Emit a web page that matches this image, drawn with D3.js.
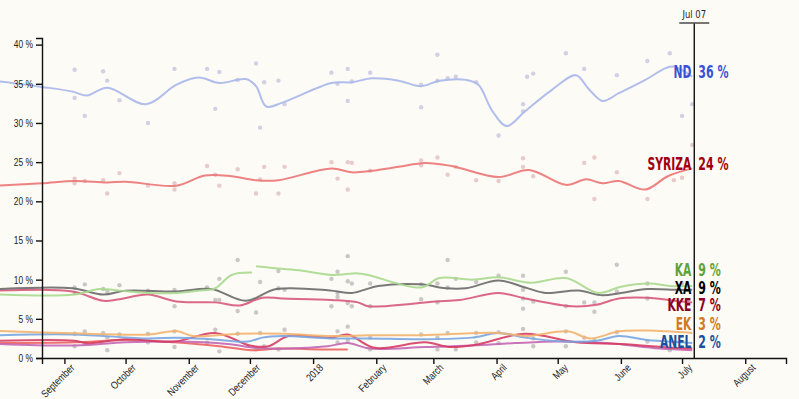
<!DOCTYPE html>
<html><head><meta charset="utf-8">
<script src="https://cdn.jsdelivr.net/npm/d3@7"></script>
<style>
html,body{margin:0;padding:0;background:#fdfbf6;}
svg{display:block;font-family:'DejaVu Sans Condensed','Liberation Sans Narrow',sans-serif;}
</style></head><body><div id="chart"></div>
<script>
// ---------- DATA ----------
const ndLine = [["2017-07-31",35.3],["2017-08-21",34.6],["2017-09-05",34.0],["2017-09-12",33.5],["2017-09-22",34.5],["2017-10-11",32.4],["2017-10-26",34.9],["2017-11-06",35.8],["2017-11-16",35.1],["2017-11-29",35.6],["2017-12-04",34.7],["2017-12-09",32.1],["2017-12-17",32.6],["2018-01-10",35.1],["2018-01-20",35.2],["2018-01-30",35.7],["2018-02-12",35.4],["2018-02-23",34.7],["2018-03-04",35.4],["2018-03-17",35.5],["2018-03-23",34.9],["2018-03-30",31.5],["2018-04-06",29.6],["2018-04-15",31.5],["2018-04-28",34.2],["2018-05-10",36.1],["2018-05-16",34.4],["2018-05-23",32.8],["2018-05-31",33.8],["2018-06-13",35.5],["2018-06-23",37.0],["2018-06-27",37.2],["2018-07-06",35.9]];
const syrizaLine = [["2017-07-31",22.0],["2017-08-21",22.3],["2017-09-06",22.6],["2017-09-22",22.4],["2017-10-01",22.5],["2017-10-26",22.0],["2017-11-09",23.3],["2017-11-22",23.2],["2017-12-04",22.7],["2017-12-15",22.7],["2018-01-10",24.2],["2018-01-20",23.7],["2018-01-30",23.9],["2018-02-12",24.4],["2018-02-25",24.9],["2018-03-10",24.5],["2018-04-02",23.1],["2018-04-17",24.0],["2018-05-05",22.1],["2018-05-15",22.8],["2018-05-23",22.3],["2018-05-31",22.6],["2018-06-13",21.5],["2018-06-24",23.2],["2018-07-06",24.2]];
const kaLine = [["2017-07-31",8.1],["2017-09-06",8.1],["2017-09-18",8.8],["2017-09-28",8.6],["2017-10-12",8.3],["2017-10-26",8.3],["2017-11-06",8.6],["2017-11-14",8.9],["2017-11-22",10.6],["2017-12-02",10.9],["2017-12-03",null],["2017-12-04",11.7],["2017-12-12",11.5],["2017-12-25",11.2],["2018-01-10",10.6],["2018-01-23",10.8],["2018-01-28",10.6],["2018-02-23",9.0],["2018-03-04",10.2],["2018-03-20",10.0],["2018-04-02",10.3],["2018-04-18",9.6],["2018-05-05",10.2],["2018-05-21",8.3],["2018-06-01",9.1],["2018-06-15",9.5],["2018-06-25",9.2],["2018-07-06",9.2]];
const xaLine = [["2017-07-31",8.8],["2017-09-05",8.9],["2017-09-20",8.1],["2017-10-01",8.6],["2017-10-26",8.5],["2017-11-12",8.8],["2017-11-29",7.3],["2017-12-14",8.8],["2018-01-10",8.6],["2018-01-20",8.3],["2018-02-02",9.2],["2018-02-23",9.4],["2018-03-07",8.9],["2018-03-17",8.9],["2018-04-02",9.9],["2018-04-15",9.0],["2018-04-25",8.3],["2018-05-11",8.6],["2018-05-23",8.0],["2018-06-01",8.3],["2018-06-14",8.8],["2018-06-29",8.7],["2018-07-06",8.7]];
const kkeLine = [["2017-07-31",8.6],["2017-09-05",8.5],["2017-09-20",7.3],["2017-09-28",7.5],["2017-10-12",8.1],["2017-10-26",7.2],["2017-11-14",7.1],["2017-11-26",6.7],["2017-12-07",7.7],["2017-12-17",7.6],["2018-01-10",7.4],["2018-01-23",7.1],["2018-01-28",6.6],["2018-03-02",7.2],["2018-03-14",7.4],["2018-04-02",8.3],["2018-04-15",7.6],["2018-05-08",6.6],["2018-05-20",6.8],["2018-05-31",7.6],["2018-06-14",7.7],["2018-07-01",7.2],["2018-07-06",7.1]];
const ekLine = [["2017-07-31",3.45],["2017-09-05",3.15],["2017-10-12",3.0],["2017-10-26",3.45],["2017-11-03",2.8],["2017-11-26",3.1],["2017-12-18",3.1],["2018-01-10",2.8],["2018-01-28",2.9],["2018-02-23",2.9],["2018-04-02",3.2],["2018-04-15",2.8],["2018-05-06",3.4],["2018-05-17",2.5],["2018-05-31",3.4],["2018-06-14",3.5],["2018-07-06",3.2]];
const anelLine = [["2017-07-31",2.9],["2017-09-05",3.0],["2017-10-12",2.5],["2017-10-26",2.6],["2017-11-12",2.4],["2017-11-30",2.1],["2017-12-07",2.6],["2017-12-17",2.8],["2018-01-10",2.5],["2018-01-28",2.5],["2018-02-23",2.4],["2018-03-20",2.6],["2018-04-02",3.2],["2018-04-15",2.6],["2018-05-05",2.1],["2018-05-20",2.2],["2018-05-31",2.8],["2018-06-14",2.3],["2018-07-01",2.0],["2018-07-06",1.9]];
const potamiLine = [["2017-07-31",1.8],["2017-09-06",1.6],["2017-10-01",2.0],["2017-10-25",2.1],["2017-11-20",1.8],["2017-12-04",1.3],["2017-12-20",1.2],["2018-01-08",1.5],["2018-01-18",1.9],["2018-01-29",1.2],["2018-02-25",1.4],["2018-03-20",1.6],["2018-04-10",1.9],["2018-05-01",2.1],["2018-05-25",1.9],["2018-06-20",1.2],["2018-07-06",1.0]];
const crimsonLine = [["2017-07-31",2.2],["2017-09-06",2.2],["2017-09-12",1.9],["2017-10-01",2.4],["2017-10-25",2.1],["2017-11-14",3.2],["2017-12-01",1.6],["2017-12-10",1.5],["2017-12-20",2.8],["2018-01-10",2.6],["2018-01-18",3.0],["2018-01-31",1.3],["2018-02-25",2.0],["2018-03-09",1.4],["2018-03-22",1.7],["2018-04-15",3.1],["2018-05-10",2.0],["2018-06-01",1.8],["2018-06-27",1.3],["2018-07-06",1.2]];
const redLine = [["2017-07-31",1.9],["2017-09-06",2.0],["2017-10-01",2.3],["2017-10-25",2.0],["2017-11-16",1.5],["2017-12-02",1.0],["2017-12-15",1.2],["2018-01-05",1.1],["2018-01-18",1.1]];

const ndPolls = [["2017-09-06",36.8],["2017-09-06",33.2],["2017-09-11",30.9],["2017-09-20",36.6],["2017-09-22",35.4],["2017-09-28",32.9],["2017-10-12",30.0],["2017-10-25",36.9],["2017-11-10",36.9],["2017-11-14",31.8],["2017-11-16",36.5],["2017-11-25",35.5],["2017-12-04",37.6],["2017-12-06",29.4],["2017-12-08",35.2],["2017-12-15",35.4],["2017-12-18",32.4],["2018-01-10",36.4],["2018-01-13",35.0],["2018-01-18",36.9],["2018-01-18",32.8],["2018-01-20",35.3],["2018-01-29",36.4],["2018-02-23",32.0],["2018-02-23",34.9],["2018-03-03",38.7],["2018-03-03",35.4],["2018-03-08",35.7],["2018-03-12",35.9],["2018-03-22",35.2],["2018-04-02",28.4],["2018-04-14",32.4],["2018-04-14",31.5],["2018-04-16",35.9],["2018-04-19",36.3],["2018-05-05",38.9],["2018-05-14",36.9],["2018-05-30",36.1],["2018-06-14",37.9],["2018-06-25",38.9],["2018-07-01",30.9],["2018-07-06",32.4]];
const syrizaPolls = [["2017-09-06",22.9],["2017-09-06",22.3],["2017-09-11",22.6],["2017-09-20",22.7],["2017-09-22",21.0],["2017-09-28",23.6],["2017-10-12",22.0],["2017-10-25",22.3],["2017-10-25",21.5],["2017-11-10",24.5],["2017-11-14",23.4],["2017-11-16",22.0],["2017-11-25",24.1],["2017-12-04",21.0],["2017-12-06",22.8],["2017-12-08",24.4],["2017-12-15",21.0],["2017-12-18",24.4],["2018-01-10",25.0],["2018-01-13",22.9],["2018-01-18",25.0],["2018-01-18",21.5],["2018-01-20",24.9],["2018-01-29",23.9],["2018-02-23",25.2],["2018-02-23",24.6],["2018-03-03",25.6],["2018-03-08",23.4],["2018-03-12",24.4],["2018-03-22",22.7],["2018-04-02",22.6],["2018-04-14",25.5],["2018-04-14",24.4],["2018-04-19",23.2],["2018-05-14",24.9],["2018-05-19",25.6],["2018-05-19",20.3],["2018-05-30",23.7],["2018-06-14",20.3],["2018-06-27",22.7],["2018-07-01",23.0],["2018-07-06",27.2]];
const smallPolls = [["2017-09-06",9.0],["2017-09-11",9.4],["2017-09-06",8.3],["2017-09-20",8.8],["2017-09-22",8.5],["2017-09-28",9.3],["2017-10-12",8.6],["2017-10-25",8.7],["2017-10-25",6.6],["2017-11-10",9.0],["2017-11-14",7.4],["2017-11-16",10.1],["2017-11-16",7.4],["2017-11-25",12.5],["2017-11-25",6.0],["2017-12-06",9.7],["2017-12-04",5.8],["2017-12-15",11.1],["2017-12-15",8.9],["2017-12-18",8.7],["2018-01-10",10.1],["2018-01-13",11.0],["2018-01-13",8.3],["2018-01-13",7.8],["2018-01-18",13.0],["2018-01-18",9.8],["2018-01-18",7.0],["2018-01-20",6.6],["2018-01-10",6.6],["2018-01-20",9.5],["2018-01-29",9.5],["2018-01-29",6.6],["2018-02-23",7.5],["2018-02-23",9.4],["2018-03-03",9.5],["2018-03-03",7.1],["2018-03-08",12.5],["2018-03-08",9.0],["2018-03-12",10.1],["2018-03-22",9.7],["2018-04-02",10.5],["2018-04-14",10.5],["2018-04-14",8.7],["2018-04-14",7.6],["2018-04-14",6.3],["2018-04-19",7.2],["2018-05-05",11.0],["2018-05-05",6.6],["2018-05-14",7.1],["2018-05-19",7.1],["2018-05-19",5.9],["2018-05-30",11.9],["2018-05-30",8.5],["2018-06-14",9.5],["2018-06-14",7.6],["2018-07-01",9.5],
["2017-09-06",3.1],["2017-09-11",3.4],["2017-09-06",1.5],["2017-09-11",1.9],["2017-09-20",3.2],["2017-09-22",2.6],["2017-09-22",1.0],["2017-09-28",3.0],["2017-10-12",3.1],["2017-10-12",2.0],["2017-10-25",3.4],["2017-10-25",1.4],["2017-11-10",2.0],["2017-11-14",3.6],["2017-11-16",0.85],["2017-11-25",3.1],["2017-12-04",1.1],["2017-12-06",3.2],["2017-12-08",1.5],["2017-12-15",1.1],["2017-12-18",3.6],["2018-01-13",3.4],["2018-01-13",2.0],["2018-01-18",4.0],["2018-01-18",2.2],["2018-01-29",2.6],["2018-01-29",1.1],["2018-02-23",3.0],["2018-03-03",2.6],["2018-03-03",1.1],["2018-03-08",3.2],["2018-03-12",1.1],["2018-03-22",3.2],["2018-03-22",2.0],["2018-04-02",3.3],["2018-04-02",1.9],["2018-04-14",3.7],["2018-04-19",2.5],["2018-04-19",1.5],["2018-05-05",3.4],["2018-05-05",1.5],["2018-05-14",2.6],["2018-05-19",2.2],["2018-05-30",3.3],["2018-06-14",2.1],["2018-06-25",1.0]];

const yTicks = [0,5,10,15,20,25,30,35,40];
const domainStart = "2017-08-21", domainEnd = "2018-08-21", todayDate = "2018-07-07", todayLabel = "Jul 07";

// ---------- SETUP ----------
const W = 799, H = 399;
const margin = {top:38, right:13, bottom:41, left:42};
const parse = d3.timeParse("%Y-%m-%d");
const svg = d3.select("#chart").append("svg").attr("width",W).attr("height",H);
svg.append("rect").attr("width",W).attr("height",H).attr("fill","#fdfbf6");

const x = d3.scaleTime().domain([parse(domainStart), parse(domainEnd)]).range([margin.left, W-margin.right]);
const allPolls = ndPolls.concat(syrizaPolls, smallPolls);
const y = d3.scaleLinear().domain([0, d3.max(allPolls, d=>d[1])*1.05]).range([H-margin.bottom, margin.top]);

// poll dots
const dotSets = [
  {data: smallPolls, fill:"#b9b6b6"},
  {data: syrizaPolls, fill:"#e2b9bb"},
  {data: ndPolls, fill:"#c6c0dc"}
];
dotSets.forEach(s=>{
  svg.append("g").selectAll("circle").data(s.data).join("circle")
    .attr("cx", d=>x(parse(d[0]))).attr("cy", d=>y(d[1])).attr("r",2.2)
    .attr("fill", s.fill).attr("opacity",0.75);
});

// lines
const lineGen = d3.line().defined(d=>d[1]!==null).x(d=>x(parse(d[0]))).y(d=>y(d[1])).curve(d3.curveCatmullRom.alpha(0.5));
const series = [
  {name:"ND", data: ndLine, stroke:"#a8b7ea", label:"#3852d6"},
  {name:"SYRIZA", data: syrizaLine, stroke:"#ea7474", label:"#a0000e"},
  {name:null, data: redLine, stroke:"#ec6262"},
  {name:null, data: potamiLine, stroke:"#c266b4"},
  {name:null, data: crimsonLine, stroke:"#d63c64"},
  {name:"ANEL", data: anelLine, stroke:"#78a6e2", label:"#1a4f9e"},
  {name:"EK", data: ekLine, stroke:"#f3b36e", label:"#d27a26"},
  {name:"KKE", data: kkeLine, stroke:"#d6587a", label:"#8c0026"},
  {name:"XA", data: xaLine, stroke:"#6a6a6a", label:"#000000"},
  {name:"KA", data: kaLine, stroke:"#a9d98f", label:"#5ca23a"}
];
series.forEach(s=>{
  svg.append("path").datum(s.data).attr("d", lineGen).attr("fill","none")
    .attr("stroke", s.stroke).attr("stroke-width",2).attr("opacity",0.9);
});

// axes
const yAxis = svg.append("g").attr("transform",`translate(${margin.left},0)`)
  .call(d3.axisLeft(y).tickValues(yTicks).tickFormat(d=>d+" %").tickSize(6).tickSizeOuter(6));
yAxis.selectAll("text").attr("font-size",10.5).attr("fill","#222").attr("font-family","inherit")
  .attr("x",0).attr("transform","translate(-9,0) scale(0.8,1)");
yAxis.selectAll("path,line").attr("stroke","#111").attr("stroke-width",1.4);

const monthFmt = d3.timeFormat("%B"), yearFmt = d3.timeFormat("%Y");
const xAxis = svg.append("g").attr("transform",`translate(0,${H-margin.bottom})`)
  .call(d3.axisBottom(x).ticks(d3.timeMonth.every(1)).tickFormat(d=>d.getMonth()===0?yearFmt(d):monthFmt(d)).tickSize(6).tickSizeOuter(6));
xAxis.selectAll("path,line").attr("stroke","#111").attr("stroke-width",1.4);
xAxis.selectAll("text").attr("font-size",10.5).attr("fill","#222").attr("font-family","inherit")
  .attr("text-anchor","end").attr("y",11).attr("x",0).attr("dy","0.35em").attr("transform","rotate(-45) scale(0.82,1)");

// today marker
const tx = x(parse(todayDate));
svg.append("line").attr("x1",tx).attr("x2",tx).attr("y1",23).attr("y2",H-margin.bottom).attr("stroke","#111").attr("stroke-width",1.4);
svg.append("line").attr("x1",tx-15).attr("x2",tx+15).attr("y1",23).attr("y2",23).attr("stroke","#555").attr("stroke-width",1.6);
svg.append("text").attr("text-anchor","middle").attr("font-size",11).attr("fill","#222")
  .attr("transform",`translate(${tx},18) scale(0.85,1)`).text(todayLabel);

// end labels with dodge
const labels = series.filter(s=>s.name).map(s=>{
  const last = s.data[s.data.length-1][1];
  return {name:s.name, value:last, color:s.label, target:y(last)-5};
});
labels.forEach(l=>l.pos=l.target);
labels.sort((a,b)=>a.target-b.target);
const gap = 17.5;
for(let iter=0; iter<200; iter++){
  for(let i=0;i<labels.length-1;i++){
    const a=labels[i], b=labels[i+1];
    const d=b.pos-a.pos;
    if(d<gap){ const m=(gap-d)/2; a.pos-=m; b.pos+=m; }
  }
}
const lg = svg.append("g").attr("font-weight","bold").attr("font-size",17);
labels.forEach(l=>{
  lg.append("text").attr("transform",`translate(${tx-3},${l.pos}) scale(0.7,1)`).attr("dy","0.36em").attr("text-anchor","end").attr("fill",l.color).text(l.name);
  lg.append("text").attr("transform",`translate(${tx+4},${l.pos}) scale(0.72,1)`).attr("dy","0.36em").attr("text-anchor","start").attr("fill",l.color).text(Math.round(l.value)+" %");
});
</script></body></html>
